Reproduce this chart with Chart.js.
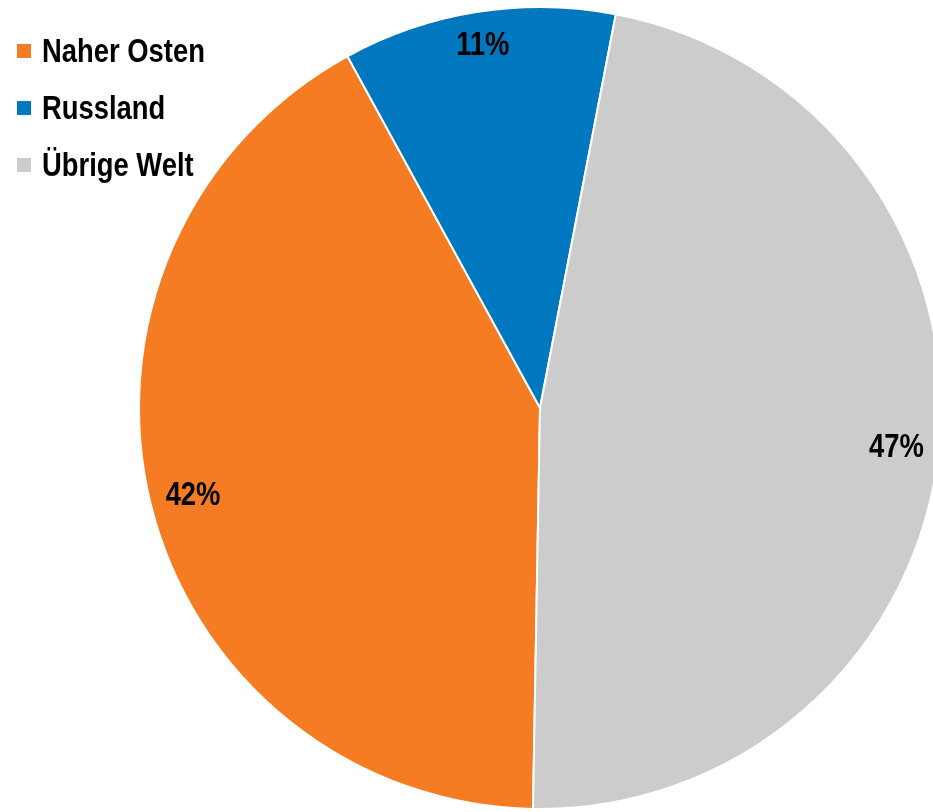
<!DOCTYPE html>
<html lang="de">
<head>
<meta charset="utf-8">
<script src="https://cdn.jsdelivr.net/npm/chart.js@4"></script>
<style>
  html, body { margin: 0; padding: 0; background: #fff; overflow: hidden; }
  #wrap { position: relative; width: 950px; height: 812px; }
  #chart { position: absolute; left: 0; top: 0; }
  #legende {
    position: absolute; left: 17px; top: 22px;
    font-family: "Liberation Sans", Arial, sans-serif;
    font-weight: bold; font-size: 33px; color: #000;
  }
  .zeile { display: flex; align-items: center; height: 57px; white-space: nowrap; }
  .kasten { width: 14px; height: 14px; margin-right: 11px; flex: none; }
  /* schmale Schrift nachbilden (Arial Narrow nicht vorhanden) */
  .schmal { display: inline-block; transform: scaleX(0.83); transform-origin: left center; }
</style>
</head>
<body>
<div id="wrap">
  <canvas id="chart" width="950" height="812"></canvas>
  <div id="legende"></div>
</div>
<script>
// Daten
const kategorien = ["Naher Osten", "Russland", "Übrige Welt"];
const anteile = [41.75, 11, 47.25];
const farben = ["#F57C22", "#0078BF", "#CCCCCC"];

const schmal = 0.83;

// Legende als HTML
const legende = document.getElementById("legende");
kategorien.forEach((name, i) => {
  const zeile = document.createElement("div");
  zeile.className = "zeile";
  const kasten = document.createElement("span");
  kasten.className = "kasten";
  kasten.style.background = farben[i];
  const text = document.createElement("span");
  text.className = "schmal";
  text.textContent = name;
  zeile.appendChild(kasten);
  zeile.appendChild(text);
  legende.appendChild(zeile);
});

// Prozentwerte innen am Rand (wie "Ende innerhalb")
const prozentLabels = {
  id: "prozentLabels",
  afterDatasetsDraw(chart) {
    const ctx = chart.ctx;
    const meta = chart.getDatasetMeta(0);
    const summe = anteile.reduce((a, b) => a + b, 0);
    const groesse = 33;
    const capH = groesse * 0.716;
    ctx.save();
    ctx.font = "bold " + groesse + "px 'Liberation Sans', Arial, sans-serif";
    ctx.fillStyle = "#000";
    ctx.textAlign = "center";
    ctx.textBaseline = "alphabetic";
    meta.data.forEach((bogen, i) => {
      const p = bogen.getProps(["x", "y", "startAngle", "endAngle", "outerRadius"], true);
      const text = Math.round(anteile[i] / summe * 100) + "%";
      const hw = ctx.measureText(text).width * schmal / 2;
      const hh = 12.5;
      const mitte = (p.startAngle + p.endAngle) / 2;
      const cx = Math.cos(mitte), cy = Math.sin(mitte);
      // äußerste Ecke der Box soll auf Kreis (R - 14) liegen
      const ox = Math.sign(cx) * hw, oy = Math.sign(cy) * hh;
      const ziel = p.outerRadius - 14;
      const b = cx * ox + cy * oy;
      const c = ox * ox + oy * oy - ziel * ziel;
      const d = -b + Math.sqrt(b * b - c);
      const x = p.x + cx * d;
      const y = p.y + cy * d;
      ctx.save();
      ctx.translate(x, y + capH / 2);
      ctx.scale(schmal, 1);
      ctx.fillText(text, 0, 0);
      ctx.restore();
    });
    ctx.restore();
  }
};

new Chart(document.getElementById("chart").getContext("2d"), {
  type: "pie",
  data: {
    labels: kategorien,
    datasets: [{
      data: anteile,
      backgroundColor: farben,
      borderColor: "#fff",
      borderWidth: 2
    }]
  },
  options: {
    responsive: false,
    animation: false,
    rotation: 181,
    radius: 401,
    layout: { padding: { left: 139, top: 7, right: 9, bottom: 3 } },
    plugins: {
      legend: { display: false },
      tooltip: { enabled: false }
    }
  },
  plugins: [prozentLabels]
});
</script>
</body>
</html>
